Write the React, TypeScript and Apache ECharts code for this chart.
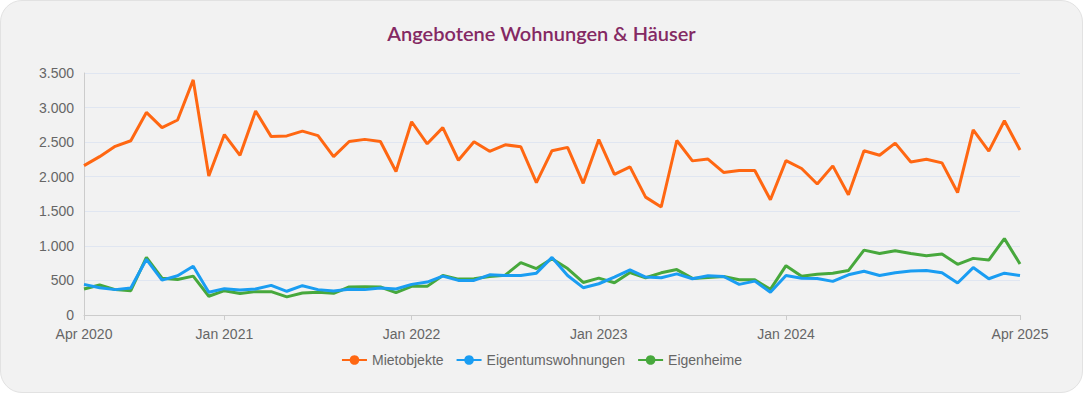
import React, { useEffect, useRef } from "react";
import * as echarts from "echarts";

const months = [
  "Apr 2020","May 2020","Jun 2020","Jul 2020","Aug 2020","Sep 2020","Oct 2020","Nov 2020","Dec 2020",
  "Jan 2021","Feb 2021","Mar 2021","Apr 2021","May 2021","Jun 2021","Jul 2021","Aug 2021","Sep 2021","Oct 2021","Nov 2021","Dec 2021",
  "Jan 2022","Feb 2022","Mar 2022","Apr 2022","May 2022","Jun 2022","Jul 2022","Aug 2022","Sep 2022","Oct 2022","Nov 2022","Dec 2022",
  "Jan 2023","Feb 2023","Mar 2023","Apr 2023","May 2023","Jun 2023","Jul 2023","Aug 2023","Sep 2023","Oct 2023","Nov 2023","Dec 2023",
  "Jan 2024","Feb 2024","Mar 2024","Apr 2024","May 2024","Jun 2024","Jul 2024","Aug 2024","Sep 2024","Oct 2024","Nov 2024","Dec 2024",
  "Jan 2025","Feb 2025","Mar 2025","Apr 2025",
];

const labeledMonths = ["Apr 2020", "Jan 2021", "Jan 2022", "Jan 2023", "Jan 2024", "Apr 2025"];

const mietobjekte = [
  2160, 2290, 2440, 2520, 2930, 2710, 2820, 3400, 2010,
  2610, 2310, 2950, 2580, 2590, 2660, 2595, 2290, 2510, 2540, 2510, 2075,
  2795, 2476, 2710, 2238, 2505, 2367, 2462, 2433, 1914, 2376, 2424, 1905,
  2538, 2033, 2143, 1705, 1562, 2524, 2229, 2255, 2062, 2090, 2090, 1667,
  2233, 2119, 1895, 2157, 1738, 2376, 2310, 2486, 2214, 2252, 2200, 1771,
  2676, 2371, 2810, 2386,
];

const eigentumswohnungen = [
  443, 395, 367, 390, 805, 505, 567, 705, 329,
  381, 360, 376, 429, 343, 424, 367, 348, 371, 367, 390, 376,
  443, 476, 562, 500, 500, 581, 571, 571, 605, 833, 571, 395,
  452, 548, 652, 548, 538, 595, 524, 567, 557, 443, 490, 329,
  571, 533, 529, 486, 581, 633, 571, 610, 638, 643, 610, 462,
  686, 524, 605, 571,
];

const eigenheime = [
  376, 433, 367, 352, 833, 533, 514, 562, 271,
  352, 312, 338, 338, 262, 319, 329, 314, 405, 410, 405, 324,
  414, 414, 571, 519, 524, 557, 576, 757, 671, 815, 671, 471,
  533, 467, 614, 538, 610, 657, 529, 543, 557, 510, 510, 371,
  714, 562, 590, 605, 643, 938, 890, 929, 890, 857, 881, 733,
  819, 795, 1105, 738,
];

const seriesNames = ["Mietobjekte", "Eigentumswohnungen", "Eigenheime"];
const seriesColors = ["#ff6712", "#1a9df2", "#47a83c"];

const fmt = (v: number) => String(v).replace(/\B(?=(\d{3})+(?!\d))/g, ".");

export default function App() {
  const ref = useRef<HTMLDivElement>(null);

  useEffect(() => {
    if (!ref.current) return;
    const chart = echarts.init(ref.current, undefined, { renderer: "svg" });
    const showIdx = (i: number) => labeledMonths.includes(months[i]);
    const font = "'Liberation Sans', Arial, sans-serif";
    const data = [mietobjekte, eigentumswohnungen, eigenheime];
    chart.setOption({
      animation: false,
      backgroundColor: "transparent",
      title: {
        text: "Angebotene Wohnungen & Häuser",
        left: "center",
        top: 17,
        textStyle: {
          color: "#842963",
          fontFamily: "Lato, sans-serif",
          fontSize: 20,
          fontWeight: 600,
        },
      },
      grid: { left: 83, right: 62, top: 72, bottom: 77, containLabel: false },
      legend: {
        bottom: 20,
        left: "center",
        itemWidth: 25,
        itemHeight: 12,
        itemGap: 12,
        textStyle: { color: "#666", fontSize: 14, fontFamily: font },
        data: seriesNames,
      },
      xAxis: {
        type: "category",
        boundaryGap: false,
        data: months,
        axisLine: { lineStyle: { color: "#ccc", width: 1 } },
        axisTick: { interval: showIdx, length: 5, lineStyle: { color: "#ccc" } },
        axisLabel: {
          interval: showIdx,
          color: "#666",
          fontSize: 14,
          fontFamily: font,
          margin: 12,
          showMaxLabel: true,
          showMinLabel: true,
        },
        splitLine: { show: false },
      },
      yAxis: {
        type: "value",
        min: 0,
        max: 3500,
        interval: 500,
        axisLine: { show: true, lineStyle: { color: "#ccc" } },
        axisTick: { show: false },
        axisLabel: {
          color: "#666",
          fontSize: 14,
          fontFamily: font,
          margin: 10,
          formatter: (v: number) => fmt(v),
        },
        splitLine: { lineStyle: { color: "#e0e6f1" } },
      },
      series: seriesNames.map((name, k) => ({
        name,
        type: "line",
        data: data[k],
        symbol: "circle",
        symbolSize: 7,
        showSymbol: false,
        lineStyle: { width: 3, color: seriesColors[k] },
        itemStyle: { color: seriesColors[k] },
        z: 3 - k,
      })),
    });
    return () => chart.dispose();
  }, []);

  return (
    <div
      style={{
        position: "fixed",
        left: 0,
        top: 0,
        width: 1083,
        height: 393,
        background: "#fff",
      }}
    >
      <div
        style={{
          position: "absolute",
          left: 0,
          top: 0,
          width: 1081,
          height: 391,
          background: "#f2f2f2",
          border: "1px solid #e2e2e2",
          borderRadius: 22,
        }}
      >
        <div ref={ref} style={{ width: 1081, height: 391 }} />
      </div>
    </div>
  );
}
